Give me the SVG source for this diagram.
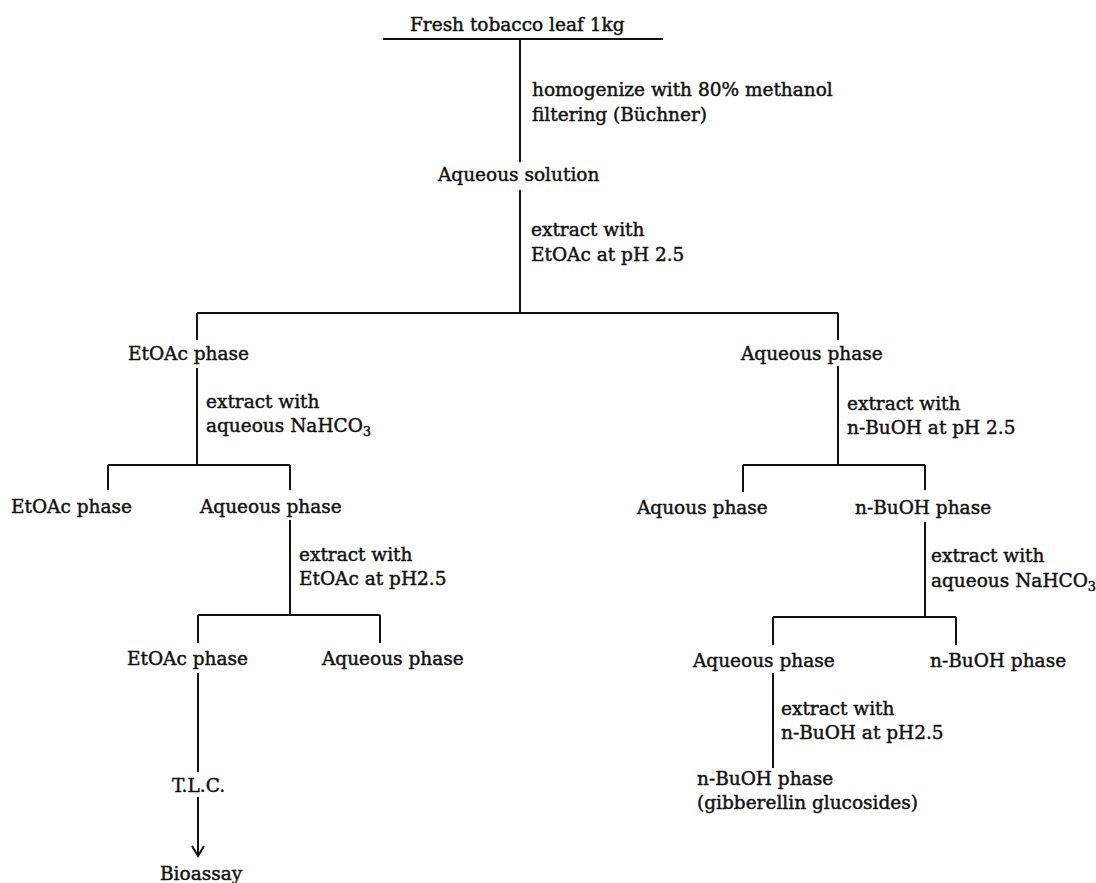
<svg xmlns="http://www.w3.org/2000/svg" width="1096" height="883" viewBox="0 0 1096 883">
<defs>
<style>
text{font-family:"DejaVu Serif","Liberation Serif",serif;font-size:18.5px;fill:#111;stroke:#111;stroke-width:0.45px;}
.c line,.c path{stroke:#111;stroke-width:2;fill:none;}
.sub{font-size:13px;}
</style>
<marker id="arr" markerWidth="16" markerHeight="16" refX="13" refY="7" orient="auto" markerUnits="userSpaceOnUse">
<path d="M3,1 L13,7 L3,13" fill="none" stroke="#111" stroke-width="2"/>
</marker>
</defs>
<rect width="1096" height="883" fill="#fff"/>
<g class="c" id="connectors">
<line x1="383" y1="39" x2="663" y2="39"/>
<line x1="520" y1="39" x2="520" y2="162"/>
<line x1="520" y1="190" x2="520" y2="313"/>
<line x1="197" y1="313" x2="838" y2="313"/>
<line x1="197" y1="313" x2="197" y2="340"/>
<line x1="838" y1="313" x2="838" y2="340"/>
<line x1="197" y1="368" x2="197" y2="465"/>
<line x1="838" y1="366" x2="838" y2="465"/>
<line x1="108" y1="465" x2="290" y2="465"/>
<line x1="108" y1="465" x2="108" y2="490"/>
<line x1="290" y1="465" x2="290" y2="490"/>
<line x1="743" y1="465" x2="925" y2="465"/>
<line x1="743" y1="465" x2="743" y2="492"/>
<line x1="925" y1="465" x2="925" y2="490"/>
<line x1="290" y1="520" x2="290" y2="615"/>
<line x1="925" y1="522" x2="925" y2="617"/>
<line x1="198" y1="615" x2="380" y2="615"/>
<line x1="198" y1="615" x2="198" y2="643"/>
<line x1="380" y1="615" x2="380" y2="643"/>
<line x1="773" y1="617" x2="956" y2="617"/>
<line x1="773" y1="617" x2="773" y2="645"/>
<line x1="956" y1="617" x2="956" y2="645"/>
<line x1="198" y1="673" x2="198" y2="772"/>
<line x1="773" y1="673" x2="773" y2="768"/>
<line x1="198" y1="797" x2="198" y2="856" marker-end="url(#arr)"/>
</g>
<g id="n-fresh"><text x="410" y="31">Fresh tobacco leaf 1kg</text></g>
<g id="s-homogenize"><text x="532" y="96">homogenize with 80% methanol</text><text x="532" y="121">filtering (Büchner)</text></g>
<g id="n-aqsol"><text x="438" y="181">Aqueous solution</text></g>
<g id="s-extract1"><text x="531" y="236">extract with</text><text x="531" y="261">EtOAc at pH 2.5</text></g>
<g id="n-etoac1"><text x="128" y="360">EtOAc phase</text></g>
<g id="n-aq1"><text x="741" y="360">Aqueous phase</text></g>
<g id="s-extract2"><text x="206" y="408">extract with</text><text x="206" y="432">aqueous NaHCO<tspan class="sub" dy="4">3</tspan></text></g>
<g id="s-extract3"><text x="847" y="410">extract with</text><text x="847" y="434">n-BuOH at pH 2.5</text></g>
<g id="n-etoac2"><text x="11" y="513">EtOAc phase</text></g>
<g id="n-aq2"><text x="200" y="513">Aqueous phase</text></g>
<g id="n-aquous"><text x="637" y="514">Aquous phase</text></g>
<g id="n-buoh1"><text x="855" y="514">n-BuOH phase</text></g>
<g id="s-extract4"><text x="299" y="561">extract with</text><text x="299" y="585">EtOAc at pH2.5</text></g>
<g id="s-extract5"><text x="931" y="562">extract with</text><text x="931" y="587">aqueous NaHCO<tspan class="sub" dy="4">3</tspan></text></g>
<g id="n-etoac3"><text x="127" y="665">EtOAc phase</text></g>
<g id="n-aq3"><text x="322" y="665">Aqueous phase</text></g>
<g id="n-aq4"><text x="693" y="667">Aqueous phase</text></g>
<g id="n-buoh2"><text x="930" y="667">n-BuOH phase</text></g>
<g id="s-extract6"><text x="781" y="715">extract with</text><text x="781" y="739">n-BuOH at pH2.5</text></g>
<g id="n-buoh3"><text x="697" y="785">n-BuOH phase</text><text x="697" y="809">(gibberellin glucosides)</text></g>
<g id="n-tlc"><text x="172" y="792">T.L.C.</text></g>
<g id="n-bioassay"><text x="160" y="880">Bioassay</text></g>
</svg>
